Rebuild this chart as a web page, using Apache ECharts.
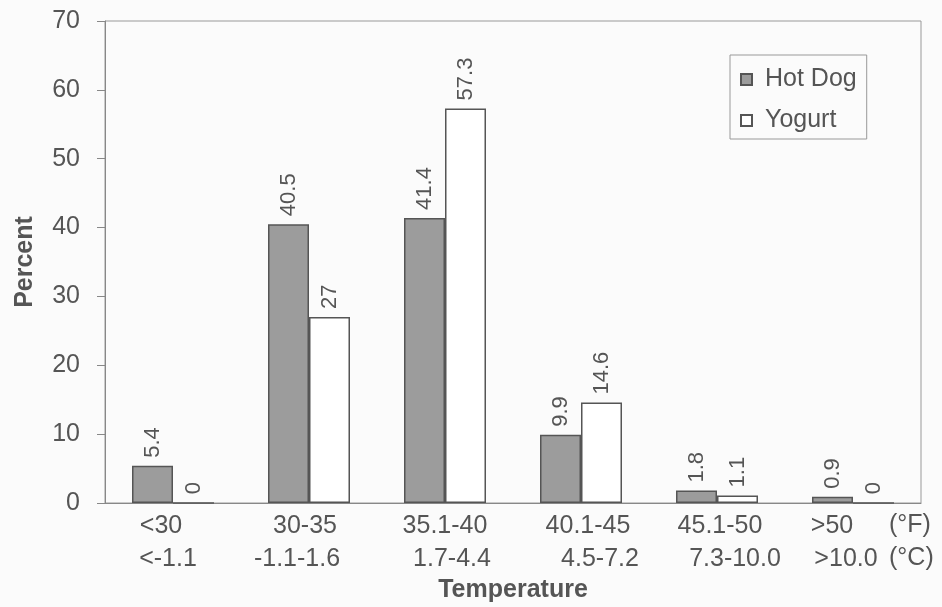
<!DOCTYPE html>
<html>
<head>
<meta charset="utf-8">
<script src="https://cdn.jsdelivr.net/npm/echarts@6/dist/echarts.min.js"></script>
<style>
html,body{margin:0;padding:0;background:#fbfbfb;}
#chart{width:942px;height:607px;}
</style>
</head>
<body>
<div id="chart"></div>
<script>
// Data
const catF = ['<30', '30-35', '35.1-40', '40.1-45', '45.1-50', '>50'];
const catC = ['<-1.1', '-1.1-1.6', '1.7-4.4', '4.5-7.2', '7.3-10.0', '>10.0'];
const hotDog = [5.4, 40.5, 41.4, 9.9, 1.8, 0.9];
const yogurt = [0, 27, 57.3, 14.6, 1.1, 0];
const unitF = '(°F)';
const unitC = '(°C)';

// Style: horizontal nudges of the two label lines (px)
const shiftF = [-12, -4, 0, 7, 3, -21];
const shiftC = [-5, -12, 7, 19, 18, -7];

const txt = '#555555';
const font = '"Liberation Sans", Arial, sans-serif';

function pad(dx) { return dx >= 0 ? [0, 0, 0, 2 * dx] : [0, -2 * dx, 0, 0]; }
const rich = {};
catF.forEach((_, i) => {
  rich['f' + i] = { fontSize: 25, color: txt, fontFamily: font, lineHeight: 33, padding: pad(shiftF[i]) };
  rich['c' + i] = { fontSize: 25, color: txt, fontFamily: font, lineHeight: 33, padding: pad(shiftC[i]) };
});

const labelCommon = {
  show: true, position: 'top', rotate: 90, align: 'left', verticalAlign: 'middle',
  distance: 8, fontSize: 22, color: txt, fontFamily: font
};

const chart = echarts.init(document.getElementById('chart'));
chart.setOption({
  backgroundColor: '#fbfbfb',
  animation: false,
  textStyle: { fontFamily: font },
  grid: {
    left: 105, right: 21, top: 21, bottom: 104,
    outerBoundsMode: 'none', containLabel: false,
    show: true, borderColor: '#999', borderWidth: 1, backgroundColor: 'transparent'
  },
  legend: {
    data: ['Hot Dog', 'Yogurt'],
    orient: 'vertical', left: 730, top: 55,
    padding: [12, 10, 6, 10],
    borderColor: '#999', borderWidth: 1,
    itemWidth: 11, itemHeight: 11, itemGap: 16,
    icon: 'rect',
    textStyle: { fontSize: 25, color: txt, fontFamily: font, padding: [0, 0, 0, 8] }
  },
  xAxis: {
    type: 'category',
    data: catF,
    name: 'Temperature', nameLocation: 'middle', nameGap: 75,
    nameTextStyle: { fontSize: 25, fontWeight: 'bold', color: txt, fontFamily: font },
    axisLine: { lineStyle: { color: '#888', width: 1 } },
    axisTick: { show: false },
    axisLabel: {
      margin: 7, interval: 0,
      formatter: (v, i) => '{f' + i + '|' + catF[i] + '}\n{c' + i + '|' + catC[i] + '}',
      rich: rich
    }
  },
  yAxis: {
    type: 'value', min: 0, max: 70, interval: 10,
    name: 'Percent', nameLocation: 'middle', nameGap: 67, nameRotate: 90,
    nameTextStyle: { fontSize: 25, fontWeight: 'bold', color: txt, fontFamily: font },
    axisLine: { show: true, lineStyle: { color: '#888', width: 1 } },
    axisTick: { show: true, inside: false, length: 8, lineStyle: { color: '#888' } },
    axisLabel: { margin: 25, fontSize: 25, color: txt, fontFamily: font },
    splitLine: { show: false }
  },
  graphic: [{
    type: 'text', left: 889, top: 509,
    style: { text: unitF + '\n' + unitC, fontSize: 25, lineHeight: 33, fill: txt, fontFamily: font }
  }],
  series: [
    {
      name: 'Hot Dog', type: 'bar', data: hotDog, barWidth: 41, barGap: '0%',
      itemStyle: { color: '#9c9c9c', borderColor: '#555', borderWidth: 1.5 },
      label: labelCommon
    },
    {
      name: 'Yogurt', type: 'bar', data: yogurt, barWidth: 41,
      itemStyle: { color: '#ffffff', borderColor: '#555', borderWidth: 1.5 },
      label: labelCommon
    }
  ]
});
</script>
</body>
</html>
